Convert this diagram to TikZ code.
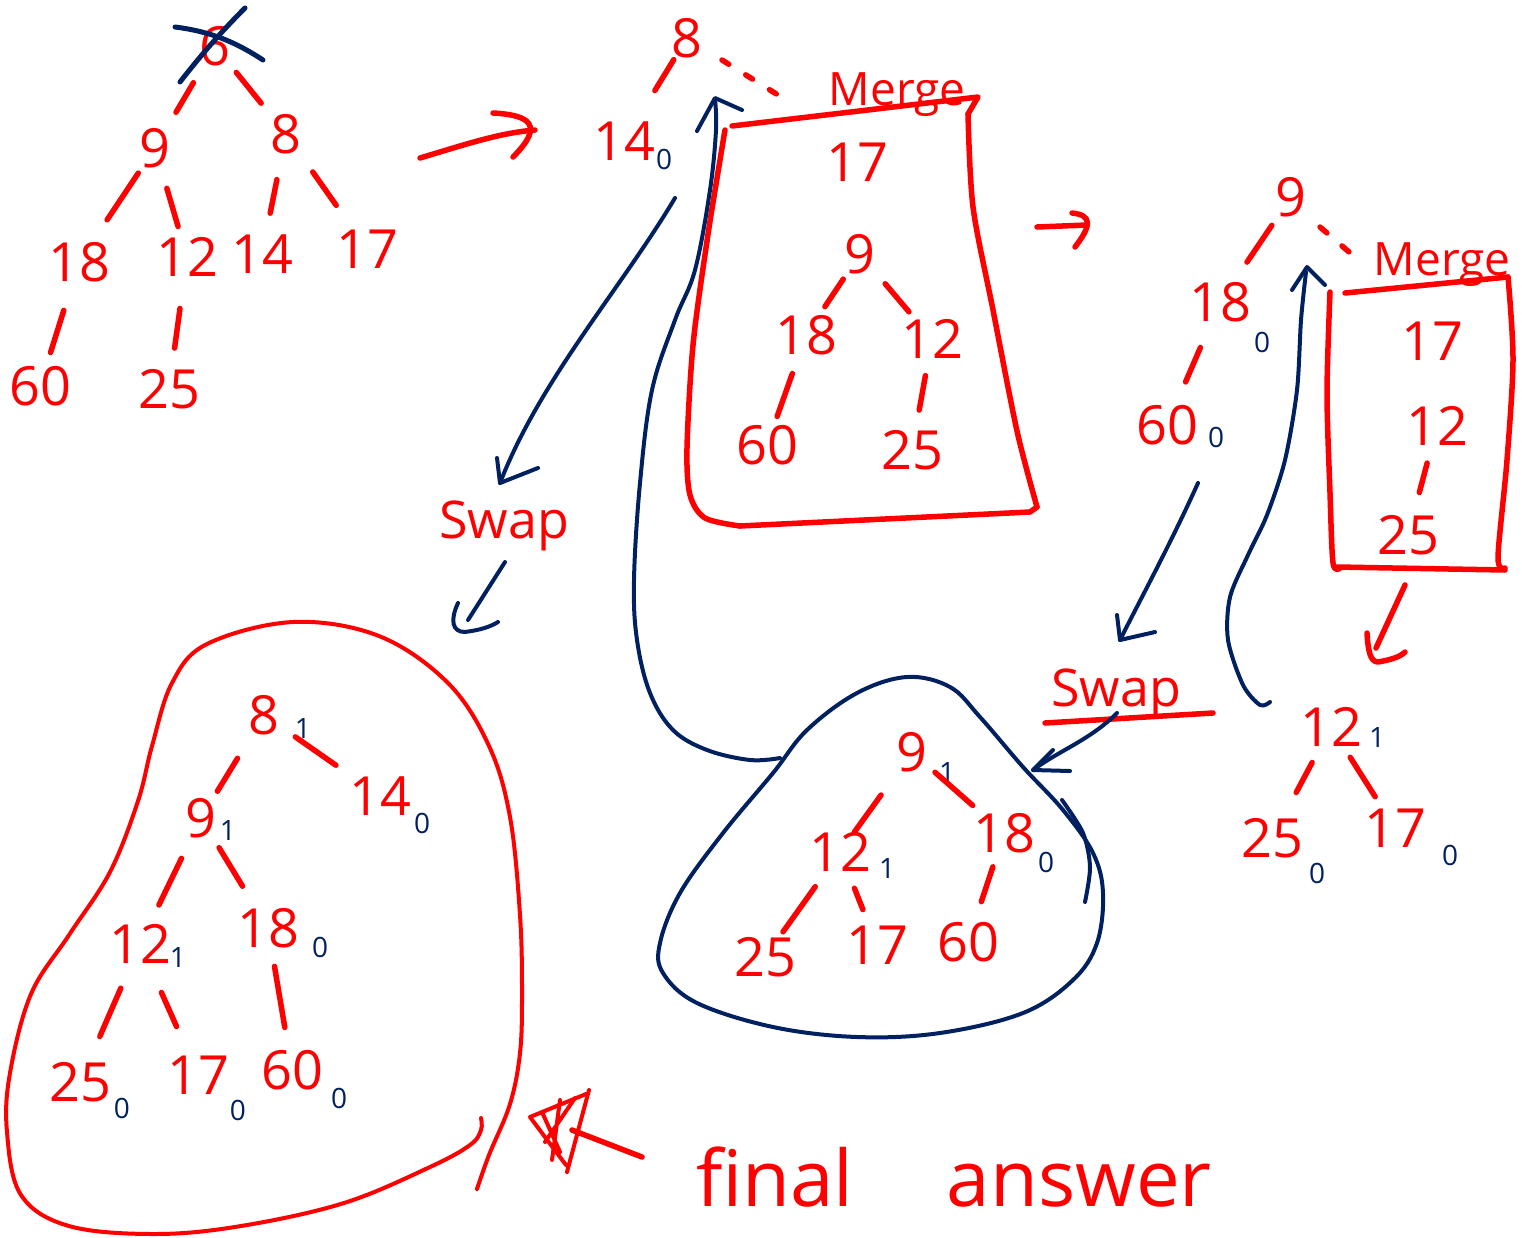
\documentclass[tikz,border=0pt]{standalone}
\usepackage{fontspec}
\setmainfont{Open Sans}
\usetikzlibrary{calc}
\definecolor{hred}{RGB}{255,0,0}
\definecolor{hnavy}{RGB}{0,32,96}
\newcommand\lnk[4]{\draw[rl] ($(#1)!#3!(#2)$) -- ($(#1)!#4!(#2)$);}
\begin{document}
\begin{tikzpicture}[x=1pt,y=-1pt,
  num/.style={text=hred, font=\fontsize{54}{54}\selectfont, inner sep=0pt},
  sub/.style={text=hnavy, font=\fontsize{28}{28}\selectfont, inner sep=0pt},
  word/.style={text=hred, inner sep=0pt, anchor=base},
  rl/.style={draw=hred, line width=5.5pt, line cap=round, line join=round},
  nl/.style={draw=hnavy, line width=4pt, line cap=round, line join=round},
  blob/.style={draw=hred, line width=4pt, line cap=round, line join=round}]
\useasboundingbox (0,0) rectangle (1522,1237);

% ---------- tree 1 ----------
\node[num] (t1r) at (215,46) {6};
\node[num] (t1a) at (155,148) {9};
\node[num] (t1b) at (286,134) {8};
\node[num] (t1c) at (79,262) {18};
\node[num] (t1d) at (187,257) {12};
\node[num] (t1e) at (262,254) {14};
\node[num] (t1f) at (367,249) {17};
\node[num] (t1g) at (40,386) {60};
\node[num] (t1h) at (169,389) {25};
\lnk{t1r}{t1a}{.36}{.65}
\lnk{t1r}{t1b}{.30}{.65}
\lnk{t1a}{t1c}{.22}{.63}
\lnk{t1a}{t1d}{.37}{.72}
\lnk{t1b}{t1e}{.38}{.66}
\lnk{t1b}{t1f}{.33}{.62}
\lnk{t1c}{t1g}{.39}{.73}
\lnk{t1d}{t1h}{.39}{.69}
\draw[nl, line width=5pt] (175,27) .. controls (215,32) and (240,45) .. (263,60);
\draw[nl, line width=5pt] (180,82) .. controls (205,50) and (225,28) .. (245,8);

% arrow 1
\coordinate (ra1s) at (420,158);
\coordinate (ra1e) at (535,130);
\draw[rl] (ra1s) .. controls (470,143) and (500,133) .. (ra1e);
\draw[rl] (493,113) .. controls (530,115) and (545,125) .. (513,157);

% ---------- tree 2 ----------
\node[num] (t2r) at (687,38) {8};
\node[num] (t2a) at (624,141) {14};
\node[sub] (t2as) at (664,159) {0};
\lnk{t2r}{t2a}{.21}{.51}
\coordinate (d2a) at (722,60);
\coordinate (d2b) at (786,100);
\draw[rl, dash pattern=on 8pt off 20pt] (d2a) -- (d2b);
\node[word, font=\fontsize{46}{46}\selectfont] (mg1) at (897,105) {Merge};
% box 2
\draw[rl] (732,126) -- (978,97) -- (968,114);
\draw[rl] plot[smooth, tension=0.5] coordinates {(968,114) (973,207) (993,310) (1017,431) (1037,507)};
\draw[rl] (1037,507) -- (1030,512) -- (740,526);
\draw[rl] plot[smooth, tension=0.5] coordinates {(740,526) (705,518) (690,495) (687,448) (693,345) (707,241) (720,160) (725,130)};
\node[num] (b2a) at (857,162) {17};
\node[num] (b2r) at (860,254) {9};
\node[num] (b2b) at (806,335) {18};
\node[num] (b2c) at (932,339) {12};
\node[num] (b2d) at (767,445) {60};
\node[num] (b2e) at (912,450) {25};
\lnk{b2r}{b2b}{.31}{.65}
\lnk{b2r}{b2c}{.35}{.68}
\lnk{b2b}{b2d}{.35}{.74}
\lnk{b2c}{b2e}{.33}{.64}

% arrow 2
\draw[rl] (1037,227) -- (1087,225);
\draw[rl] (1072,213) .. controls (1092,215) and (1092,225) .. (1075,247);

% navy arrow 14 -> swap
\draw[nl] (675,198) .. controls (620,290) and (540,380) .. (500,483);
\draw[nl] (497,458) -- (500,483) -- (538,468);
\node[word, font=\fontsize{52}{52}\selectfont] (sw1) at (504,538) {Swap};
\draw[nl] (505,562) -- (468,620);
\draw[nl] (458,603) .. controls (450,620) and (452,632) .. (465,632) .. controls (480,630) and (490,627) .. (498,622);

% long navy curve from blob to tree 2
\draw[nl] plot[smooth, tension=0.6] coordinates {(780,758) (750,760) (707,750) (673,730) (650,693) (637,640) (634,580) (640,483) (652,390) (675,320) (695,270) (710,190) (716,130) (715,100)};
\draw[nl] (697,131) -- (715,98) -- (742,110);

% ---------- tree 3 ----------
\node[num] (t3r) at (1291,197) {9};
\node[num] (t3a) at (1220,302) {18};
\node[sub] (t3as) at (1262,342) {0};
\node[num] (t3b) at (1167,425) {60};
\node[sub] (t3bs) at (1216,437) {0};
\lnk{t3r}{t3a}{.27}{.62}
\lnk{t3a}{t3b}{.37}{.65}
\coordinate (d3a) at (1320,227);
\coordinate (d3b) at (1356,258);
\draw[rl, dash pattern=on 9pt off 20pt] (d3a) -- (d3b);
\node[word, font=\fontsize{46}{46}\selectfont] (mg2) at (1442,275) {Merge};
% box 3
\draw[rl] (1345,293) -- (1508,277);
\draw[rl] plot[smooth, tension=0.5] coordinates {(1330,292) (1327,393) (1330,493) (1333,563) (1340,568)};
\draw[rl] (1337,567) -- (1505,570);
\draw[rl] plot[smooth, tension=0.5] coordinates {(1508,277) (1513,360) (1507,460) (1498,557) (1505,568)};
\node[num] (b3a) at (1432,341) {17};
\node[num] (b3b) at (1437,426) {12};
\node[num] (b3c) at (1408,535) {25};
\lnk{b3b}{b3c}{.34}{.61}
\draw[rl] (1405,585) -- (1376,648);
\draw[rl] (1367,633) .. controls (1368,650) and (1370,662) .. (1378,662) .. controls (1390,660) and (1400,657) .. (1405,652);

% navy arrow 60 -> swap 2
\draw[nl] (1198,483) .. controls (1170,545) and (1140,600) .. (1120,640);
\draw[nl] (1117,615) -- (1120,640) -- (1155,632);
\node[word, font=\fontsize{52}{52}\selectfont] (sw2) at (1116,706) {Swap};
\draw[rl] (1045,723) -- (1213,713);
\draw[nl] (1117,713) .. controls (1090,740) and (1060,750) .. (1033,770);
\draw[nl] (1053,750) -- (1033,770) -- (1070,771);

% navy right curve
\draw[nl] plot[smooth] coordinates {(1270,702) (1260,705) (1243,685) (1228,640) (1230,597) (1248,555) (1267,515) (1285,460) (1297,390) (1301,320) (1306,272)};
\draw[nl] (1292,290) -- (1307,267) -- (1325,285);

% ---------- tree 4 ----------
\node[num] (t4r) at (1331,727) {12};
\node[sub] (t4rs) at (1377,737) {1};
\node[num] (t4a) at (1272,838) {25};
\node[sub] (t4as) at (1317,873) {0};
\node[num] (t4b) at (1395,828) {17};
\node[sub] (t4bs) at (1450,855) {0};
\lnk{t4r}{t4a}{.32}{.59}
\lnk{t4r}{t4b}{.30}{.69}

% ---------- navy blob ----------
\draw[nl] plot[smooth cycle, tension=0.6] coordinates {(773,773) (807,730) (857,693) (907,677) (950,687) (980,717) (1023,767) (1063,810) (1093,853) (1103,893) (1097,943) (1073,980) (1023,1013) (940,1033) (857,1037) (773,1027) (697,1003) (663,973) (660,943) (680,893) (723,833)};
\draw[nl] plot[smooth] coordinates {(1062,800) (1083,833) (1090,867) (1085,902)};
\node[num] (t5r) at (912,752) {9};
\node[sub] (t5rs) at (947,772) {1};
\node[num] (t5a) at (840,852) {12};
\node[sub] (t5as) at (887,868) {1};
\node[num] (t5b) at (1004,833) {18};
\node[sub] (t5bs) at (1046,862) {0};
\node[num] (t5c) at (765,957) {25};
\node[num] (t5d) at (877,945) {17};
\node[num] (t5e) at (968,942) {60};
\lnk{t5r}{t5a}{.43}{.80}
\lnk{t5r}{t5b}{.25}{.66}
\lnk{t5a}{t5c}{.33}{.76}
\lnk{t5a}{t5d}{.39}{.62}
\lnk{t5b}{t5e}{.31}{.63}

% ---------- final tree ----------
\draw[blob] plot[smooth, tension=0.6] coordinates {(481,1118) (481,1130) (470,1145) (430,1167) (344,1203) (241,1226) (155,1234) (69,1226) (21,1195) (7,1132) (10,1073) (31,994) (69,935) (110,872) (138,801) (152,746) (172,683) (207,644) (293,622) (379,636) (448,683) (489,746) (510,817) (520,915) (522,994) (520,1053) (510,1104) (489,1155) (477,1189)};
\node[num] (t6r) at (264,715) {8};
\node[sub] (t6rs) at (303,728) {1};
\node[num] (t6b) at (380,796) {14};
\node[sub] (t6bs) at (422,823) {0};
\node[num] (t6a) at (201,818) {9};
\node[sub] (t6as) at (228,830) {1};
\node[num] (t6c) at (140,944) {12};
\node[sub] (t6cs) at (178,957) {1};
\node[num] (t6d) at (268,928) {18};
\node[sub] (t6ds) at (320,947) {0};
\node[num] (t6e) at (80,1082) {25};
\node[sub] (t6es) at (122,1108) {0};
\node[num] (t6f) at (198,1075) {17};
\node[sub] (t6fs) at (238,1110) {0};
\node[num] (t6g) at (292,1070) {60};
\node[sub] (t6gs) at (339,1098) {0};
\lnk{t6r}{t6b}{.27}{.62}
\lnk{t6r}{t6a}{.42}{.74}
\lnk{t6a}{t6c}{.32}{.69}
\lnk{t6a}{t6d}{.27}{.62}
\lnk{t6c}{t6e}{.32}{.67}
\lnk{t6c}{t6f}{.37}{.63}
\lnk{t6d}{t6g}{.27}{.70}

% final answer arrow and label
\node[word, font=\fontsize{78}{78}\selectfont] (fin) at (954,1206) {final\hspace{1.2em}answer};
\coordinate (fa1) at (642,1157);
\coordinate (fa2) at (572,1130);
\draw[rl] (fa1) -- (fa2);
\draw[rl, line width=4pt] (589,1090) -- (567,1172);
\draw[rl, line width=4pt] (586,1094) -- (530,1117) -- (566,1165);
\draw[rl, line width=4pt] (575,1098) -- (545,1142) (542,1112) -- (560,1152) (560,1100) -- (552,1160);
\end{tikzpicture}
\end{document}
